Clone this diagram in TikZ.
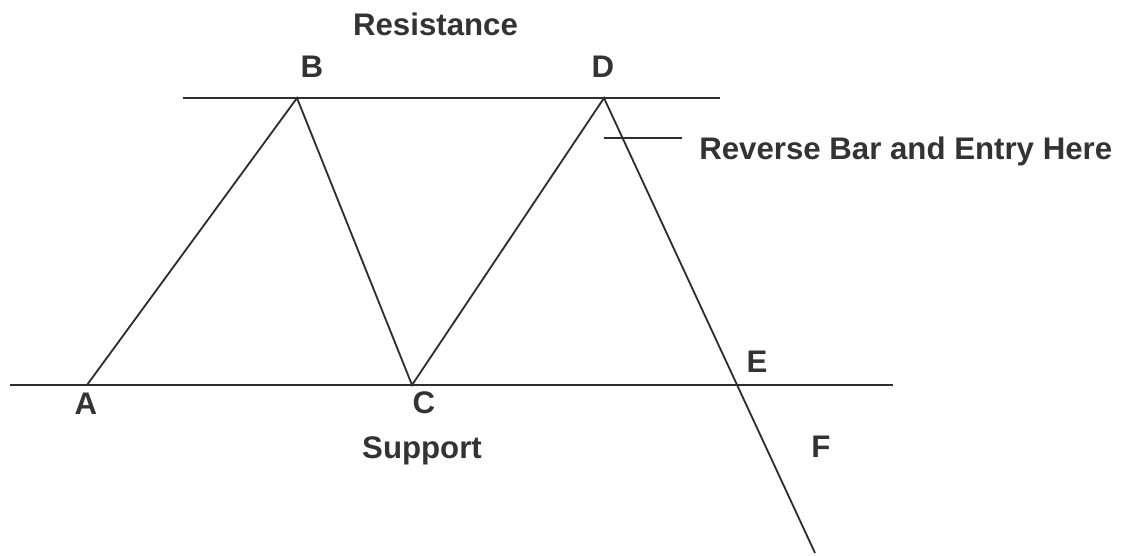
\documentclass[tikz,border=0pt]{standalone}
\usepackage{fontspec}
\setmainfont{Liberation Sans}
\usetikzlibrary{positioning}
\definecolor{ink}{HTML}{333333}
\definecolor{linecol}{HTML}{2E2E2E}

\begin{document}
\begin{tikzpicture}[x=0.025cm, y=-0.025cm,
  lbl/.style={anchor=base, inner sep=0pt, text=ink,
              font=\fontsize{22.2}{26}\selectfont\bfseries},
  trend/.style={draw=linecol, line width=1.3pt, line join=miter}
]
  \useasboundingbox (0,0) rectangle (1130,556);

  % ── Swing points ──
  \coordinate (A) at (87,385);
  \coordinate (B) at (297,98);
  \coordinate (C) at (412,385);
  \coordinate (D) at (604,98);
  \coordinate (fend) at (815,553);

  % ── Resistance and support levels ──
  \coordinate (resL) at (183,98);
  \coordinate (resR) at (720,98);
  \coordinate (supL) at (10,385);
  \coordinate (supR) at (893,385);
  \draw[trend] (resL) -- (resR);
  \draw[trend] (supL) -- (supR);

  % ── Price path ──
  \draw[trend] (A) -- (B) -- (C) -- (D) -- (fend);

  % ── Entry pointer ──
  \coordinate (ptrL) at (604,138);
  \coordinate (ptrR) at (682,138);
  \draw[trend] (ptrL) -- (ptrR);

  % ── Labels ──
  \node[lbl] (res) at (435.5,36) {Resistance};
  \node[lbl] (lB) at (312,78) {B};
  \node[lbl] (lD) at (603,78) {D};
  \node[lbl, anchor=base west] (entry) at (699,160) {Reverse Bar and Entry Here};
  \node[lbl] (lA) at (86,414) {A};
  \node[lbl] (lC) at (424,413) {C};
  \node[lbl] (sup) at (422,458) {Support};
  \node[lbl] (lE) at (757,373) {E};
  \node[lbl] (lF) at (821,457) {F};
\end{tikzpicture}
\end{document}
